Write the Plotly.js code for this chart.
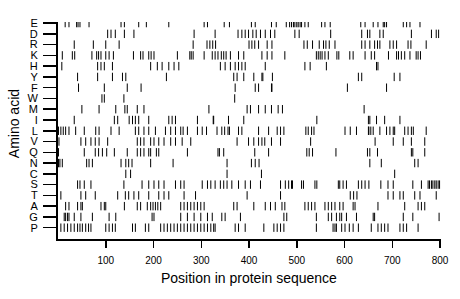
<!DOCTYPE html>
<html>
<head>
<meta charset="utf-8">
<script src="https://cdn.plot.ly/plotly-3.0.1.min.js"></script>
<style>html,body{margin:0;padding:0;background:#fff;}#chart{width:460px;height:299px;}</style>
</head>
<body>
<div id="chart"></div>
<script>
// Amino acids, top to bottom
const aminoAcids = ['E','D','R','K','H','Y','F','W','M','I','L','V','Q','N','C','S','T','A','G','P'];
const xTickValues = [100,200,300,400,500,600,700,800];

// Positions of each residue in the protein sequence
const posE = [15,23,39,42,46,65,132,139,169,185,232,306,313,348,359,405,413,447,457,478,485,489,493,496,500,503,507,510,517,524,552,559,570,634,643,660,670,681,684,688,723,730,737,758];
const posD = [104,111,120,139,159,285,329,377,385,392,399,408,415,424,434,445,454,496,505,571,636,648,653,674,681,740,782,792,797];
const posR = [34,74,100,128,283,312,318,324,330,400,406,412,420,438,448,515,522,533,547,556,561,568,580,636,643,653,663,669,674,695,702,709,733,739,771];
const posK = [9,30,35,71,81,85,90,100,107,116,158,173,178,190,195,201,250,276,279,283,306,323,329,335,342,347,352,361,378,389,427,438,448,475,541,545,549,553,559,566,584,588,611,618,643,656,663,692,709,713,719,726,737,750,754,759];
const posH = [8,83,90,97,114,194,208,218,232,243,253,340,350,361,371,378,385,392,434,517,528,562,667,670];
const posY = [41,83,114,135,142,227,368,375,389,410,427,429,449,629,636,704,716];
const posF = [43,97,145,174,371,413,420,447,448,606,688];
const posW = [92,97,138,370];
const posM = [50,86,121,140,145,166,180,316,396,403,420,434,447,461,470,641];
const posI = [34,118,125,149,156,162,169,190,232,239,246,292,325,326,357,389,542,650,653,667,684,716];
const posL = [1,6,11,16,23,37,55,79,86,111,128,162,169,180,190,204,225,236,246,257,262,271,292,302,311,333,343,349,356,359,378,385,420,441,459,466,473,519,524,531,536,601,612,625,650,651,655,660,674,688,695,702,705,726,733,740,744,771];
const posV = [2,48,58,69,78,86,104,166,173,180,194,201,211,222,236,246,260,278,375,399,410,420,427,433,447,466,529,664,702,723,740,768];
const posQ = [1,55,78,85,93,102,118,145,166,173,180,190,194,206,211,271,335,338,347,412,441,521,526,533,582,648,653,669,740,743,768];
const posN = [1,4,9,60,65,72,132,142,148,155,194,241,354,405,413,421,653,677,747,754];
const posC = [142,152,354,426,705];
const posS = [41,46,55,69,138,176,190,201,211,222,246,257,264,302,313,320,329,340,347,354,364,378,392,403,424,466,476,483,489,491,510,514,538,542,587,590,597,604,629,636,643,651,676,691,702,743,761,775,778,782,785,789,792,796,799];
const posT = [6,48,58,78,125,141,148,159,169,190,211,222,232,264,288,396,466,612,619,626,691,702,716,723,747,758,792];
const posA = [16,23,41,48,51,90,97,100,139,166,173,187,194,199,204,209,215,257,264,271,278,285,292,299,306,368,375,410,434,445,455,469,475,517,524,531,538,559,566,573,580,590,597,618,622,670,726,754,761,768];
const posG = [13,16,20,23,34,48,72,107,121,197,201,257,271,285,299,313,323,343,350,382,473,479,541,566,573,583,590,594,604,625,660,663,723,743,798];
const posP = [6,13,20,27,34,41,46,51,58,64,69,100,107,114,120,156,162,183,190,215,222,229,236,243,250,257,264,271,278,285,292,299,306,313,320,326,329,371,378,392,431,452,459,466,473,541,576,580,583,594,601,610,618,629,656,670,677,684,691,716,723,730,754];

const positions = {E:posE,D:posD,R:posR,K:posK,H:posH,Y:posY,F:posF,W:posW,M:posM,I:posI,L:posL,V:posV,Q:posQ,N:posN,C:posC,S:posS,T:posT,A:posA,G:posG,P:posP};

const n = aminoAcids.length;
const xs = [], ys = [];
aminoAcids.forEach((aa, i) => {
  const yIdx = n - 1 - i;
  positions[aa].forEach(p => { xs.push(p); ys.push(yIdx); });
});

const trace = {
  type: 'scatter',
  mode: 'markers',
  x: xs,
  y: ys,
  marker: {symbol: 'line-ns', size: 6, color: '#000', line: {width: 1, color: '#000'}},
  hoverinfo: 'x+y',
  showlegend: false
};

const font = "Liberation Sans, Arial, Helvetica, sans-serif";
const layout = {
  width: 460, height: 299,
  margin: {l: 58, r: 19, t: 21.6, b: 60, pad: 0},
  paper_bgcolor: '#fff', plot_bgcolor: '#fff',
  font: {family: font, color: '#000'},
  xaxis: {
    range: [0, 802],
    tickvals: xTickValues,
    ticktext: xTickValues.map(String),
    ticks: 'outside', ticklen: 7, tickwidth: 1.5, tickcolor: '#000',
    showline: true, linewidth: 2, linecolor: '#000',
    showgrid: false, zeroline: false,
    tickfont: {size: 10, family: font, color: '#000'},
    ticklabelstandoff: 4
  },
  yaxis: {
    range: [-1.05, 19.1],
    tickvals: aminoAcids.map((a, i) => n - 1 - i),
    ticktext: aminoAcids,
    ticks: 'outside', ticklen: 13, tickwidth: 1.5, tickcolor: '#000',
    showline: true, linewidth: 2, linecolor: '#000',
    showgrid: false, zeroline: false,
    tickfont: {size: 11, family: font, color: '#000'},
    ticklabelstandoff: 3
  },
  annotations: [
    {text: 'Position in protein sequence', xref: 'paper', yref: 'paper',
     x: (248.5 - 58) / 383, y: (239 - 278) / 217.4, xanchor: 'center', yanchor: 'middle',
     showarrow: false, font: {size: 14, family: font, color: '#000'}},
    {text: 'Amino acid', xref: 'paper', yref: 'paper', textangle: -90,
     x: (14 - 58) / 383, y: (239 - 124) / 217.4, xanchor: 'center', yanchor: 'middle',
     showarrow: false, font: {size: 14, family: font, color: '#000'}}
  ]
};

Plotly.newPlot('chart', [trace], layout, {staticPlot: true, displayModeBar: false});
</script>
</body>
</html>
